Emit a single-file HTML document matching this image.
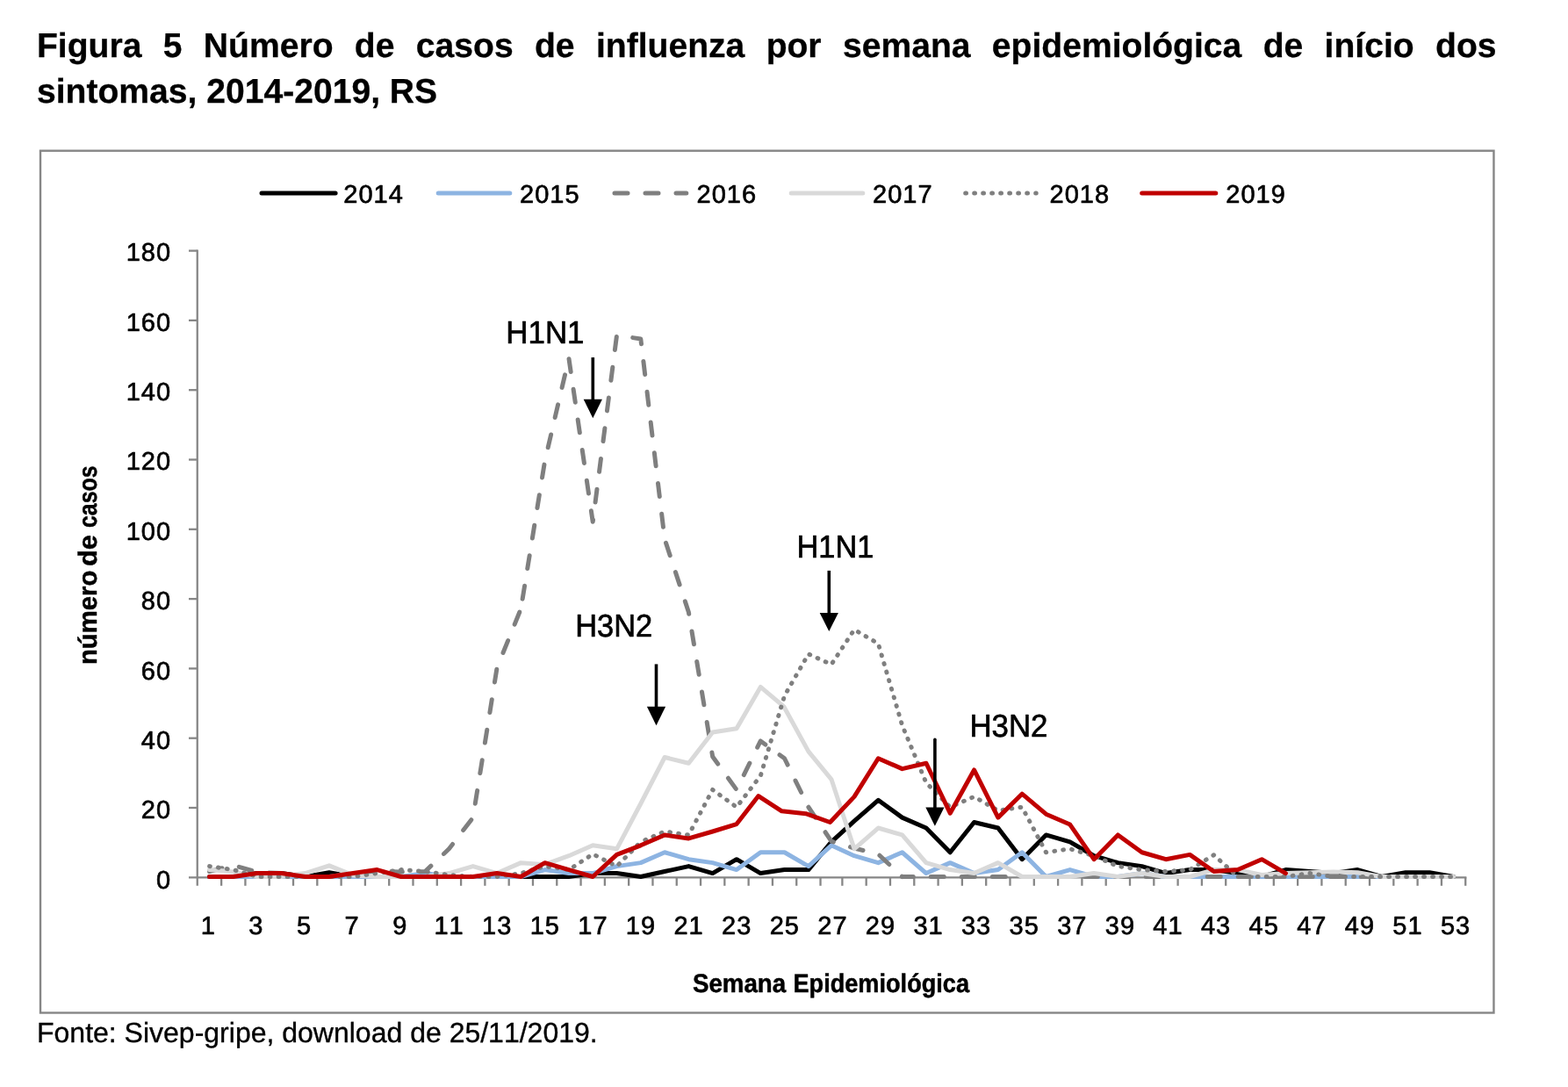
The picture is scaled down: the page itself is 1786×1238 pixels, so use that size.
<!DOCTYPE html>
<html lang="pt-BR">
<head>
<meta charset="utf-8">
<title>Figura 5 Número de casos de influenza por semana epidemiológica</title>
<style>
html,body{margin:0;padding:0;background:#fff;}
body{width:1786px;height:1238px;position:relative;overflow:hidden;font-family:"Liberation Sans",sans-serif;color:#000;}
.t1,.t2,.ft{position:absolute;white-space:nowrap;margin:0;font-kerning:none;text-rendering:geometricPrecision;}
.t1,.t2{font-weight:bold;font-size:39.1px;line-height:44px;left:42px;-webkit-text-stroke:0.3px #000;}
.t1{top:31px;width:1662.5px;text-align:justify;text-align-last:justify;}
.t2{top:83.3px;}
.ft{font-size:32px;line-height:36px;left:42px;top:1157.6px;-webkit-text-stroke:0.35px #000;}
svg text{font-family:"Liberation Sans",sans-serif;fill:#000;font-kerning:none;stroke:#000;stroke-linejoin:round;text-rendering:geometricPrecision;}
svg .ax{font-size:29.0px;stroke-width:0.65px;letter-spacing:1.0px;}
svg .axb{font-size:29.6px;font-weight:bold;stroke-width:0.5px;}
svg .an{font-size:36.2px;stroke-width:0.7px;}
</style>
</head>
<body>
<svg width="1786" height="1238" viewBox="0 0 1786 1238" style="position:absolute;left:0;top:0">
<rect x="46" y="171.7" width="1655.45" height="981.80" fill="#fff" stroke="#868686" stroke-width="2.4"/>
<g stroke="#868686" stroke-width="2.3" fill="none">
<line x1="224.75" y1="284.45" x2="224.75" y2="1008.8"/>
<line x1="215.0" y1="999.3" x2="1670.38" y2="999.3"/>
<line x1="215.0" y1="920.00" x2="224.75" y2="920.00"/>
<line x1="215.0" y1="840.70" x2="224.75" y2="840.70"/>
<line x1="215.0" y1="761.40" x2="224.75" y2="761.40"/>
<line x1="215.0" y1="682.10" x2="224.75" y2="682.10"/>
<line x1="215.0" y1="602.80" x2="224.75" y2="602.80"/>
<line x1="215.0" y1="523.50" x2="224.75" y2="523.50"/>
<line x1="215.0" y1="444.20" x2="224.75" y2="444.20"/>
<line x1="215.0" y1="364.90" x2="224.75" y2="364.90"/>
<line x1="215.0" y1="285.60" x2="224.75" y2="285.60"/>
<line x1="252.14" y1="999.3" x2="252.14" y2="1008.8"/>
<line x1="279.43" y1="999.3" x2="279.43" y2="1008.8"/>
<line x1="306.73" y1="999.3" x2="306.73" y2="1008.8"/>
<line x1="334.02" y1="999.3" x2="334.02" y2="1008.8"/>
<line x1="361.32" y1="999.3" x2="361.32" y2="1008.8"/>
<line x1="388.61" y1="999.3" x2="388.61" y2="1008.8"/>
<line x1="415.91" y1="999.3" x2="415.91" y2="1008.8"/>
<line x1="443.20" y1="999.3" x2="443.20" y2="1008.8"/>
<line x1="470.50" y1="999.3" x2="470.50" y2="1008.8"/>
<line x1="497.80" y1="999.3" x2="497.80" y2="1008.8"/>
<line x1="525.09" y1="999.3" x2="525.09" y2="1008.8"/>
<line x1="552.39" y1="999.3" x2="552.39" y2="1008.8"/>
<line x1="579.68" y1="999.3" x2="579.68" y2="1008.8"/>
<line x1="606.98" y1="999.3" x2="606.98" y2="1008.8"/>
<line x1="634.27" y1="999.3" x2="634.27" y2="1008.8"/>
<line x1="661.57" y1="999.3" x2="661.57" y2="1008.8"/>
<line x1="688.87" y1="999.3" x2="688.87" y2="1008.8"/>
<line x1="716.16" y1="999.3" x2="716.16" y2="1008.8"/>
<line x1="743.46" y1="999.3" x2="743.46" y2="1008.8"/>
<line x1="770.75" y1="999.3" x2="770.75" y2="1008.8"/>
<line x1="798.05" y1="999.3" x2="798.05" y2="1008.8"/>
<line x1="825.34" y1="999.3" x2="825.34" y2="1008.8"/>
<line x1="852.64" y1="999.3" x2="852.64" y2="1008.8"/>
<line x1="879.93" y1="999.3" x2="879.93" y2="1008.8"/>
<line x1="907.23" y1="999.3" x2="907.23" y2="1008.8"/>
<line x1="934.53" y1="999.3" x2="934.53" y2="1008.8"/>
<line x1="959.38" y1="999.3" x2="959.38" y2="1008.8"/>
<line x1="986.68" y1="999.3" x2="986.68" y2="1008.8"/>
<line x1="1013.98" y1="999.3" x2="1013.98" y2="1008.8"/>
<line x1="1041.29" y1="999.3" x2="1041.29" y2="1008.8"/>
<line x1="1068.59" y1="999.3" x2="1068.59" y2="1008.8"/>
<line x1="1095.89" y1="999.3" x2="1095.89" y2="1008.8"/>
<line x1="1123.19" y1="999.3" x2="1123.19" y2="1008.8"/>
<line x1="1150.49" y1="999.3" x2="1150.49" y2="1008.8"/>
<line x1="1177.80" y1="999.3" x2="1177.80" y2="1008.8"/>
<line x1="1205.10" y1="999.3" x2="1205.10" y2="1008.8"/>
<line x1="1232.40" y1="999.3" x2="1232.40" y2="1008.8"/>
<line x1="1259.70" y1="999.3" x2="1259.70" y2="1008.8"/>
<line x1="1287.00" y1="999.3" x2="1287.00" y2="1008.8"/>
<line x1="1314.31" y1="999.3" x2="1314.31" y2="1008.8"/>
<line x1="1341.61" y1="999.3" x2="1341.61" y2="1008.8"/>
<line x1="1368.91" y1="999.3" x2="1368.91" y2="1008.8"/>
<line x1="1396.21" y1="999.3" x2="1396.21" y2="1008.8"/>
<line x1="1423.51" y1="999.3" x2="1423.51" y2="1008.8"/>
<line x1="1450.82" y1="999.3" x2="1450.82" y2="1008.8"/>
<line x1="1478.12" y1="999.3" x2="1478.12" y2="1008.8"/>
<line x1="1505.42" y1="999.3" x2="1505.42" y2="1008.8"/>
<line x1="1532.72" y1="999.3" x2="1532.72" y2="1008.8"/>
<line x1="1560.02" y1="999.3" x2="1560.02" y2="1008.8"/>
<line x1="1587.33" y1="999.3" x2="1587.33" y2="1008.8"/>
<line x1="1614.63" y1="999.3" x2="1614.63" y2="1008.8"/>
<line x1="1641.93" y1="999.3" x2="1641.93" y2="1008.8"/>
<line x1="1669.23" y1="999.3" x2="1669.23" y2="1008.8"/>
</g>
<polyline points="238.49,998.50 265.78,998.50 293.08,994.54 320.37,994.54 347.67,998.50 374.97,993.74 402.26,998.50 429.56,998.50 456.85,998.50 484.15,998.50 511.44,998.50 538.74,998.50 566.04,998.50 593.33,998.50 620.63,998.50 647.92,998.50 675.22,994.54 702.51,994.54 729.81,998.50 757.10,992.56 784.40,986.61 811.70,994.54 838.99,978.68 866.29,994.54 893.58,990.57 920.88,990.57 946.95,958.87 973.03,935.09 1000.33,911.31 1027.63,931.13 1054.94,943.02 1082.24,970.76 1109.54,936.49 1136.84,943.02 1164.14,978.68 1191.45,950.94 1218.75,958.87 1246.05,974.72 1273.35,982.65 1300.65,986.61 1327.96,994.54 1355.26,990.57 1382.56,990.57 1409.86,994.54 1437.16,998.50 1464.47,990.57 1491.77,992.56 1519.07,994.54 1546.37,990.57 1573.67,998.50 1600.98,993.74 1628.28,993.74 1655.58,998.50" fill="none" stroke="#000000" stroke-width="5.0" stroke-linecap="round" stroke-linejoin="round"/>
<polyline points="238.49,998.50 265.78,998.50 293.08,998.50 320.37,998.50 347.67,998.50 374.97,998.50 402.26,998.50 429.56,998.50 456.85,998.50 484.15,994.54 511.44,998.50 538.74,998.50 566.04,998.50 593.33,998.50 620.63,990.57 647.92,994.54 675.22,994.54 702.51,986.61 729.81,982.65 757.10,970.76 784.40,978.68 811.70,982.65 838.99,990.57 866.29,970.76 893.58,970.76 920.88,986.61 946.95,962.83 973.03,974.72 1000.33,982.65 1027.63,970.76 1054.94,994.54 1082.24,982.65 1109.54,994.54 1136.84,990.57 1164.14,970.76 1191.45,998.50 1218.75,990.57 1246.05,998.50 1273.35,998.50 1300.65,994.54 1327.96,998.50 1355.26,998.50 1382.56,998.50 1409.86,998.50 1437.16,998.50 1464.47,998.50 1491.77,998.50 1519.07,998.50 1546.37,998.50 1573.67,998.50 1600.98,998.50 1628.28,998.50" fill="none" stroke="#8db4e2" stroke-width="5.0" stroke-linecap="round" stroke-linejoin="round"/>
<g fill="none" stroke="#7f7f7f" stroke-width="5.0" stroke-linecap="round" stroke-linejoin="round" stroke-dasharray="15 20">
<polyline points="238.49,992.56 265.78,985.42 293.08,993.35 320.37,994.54 347.67,998.50 374.97,998.50 402.26,994.54 429.56,992.16 456.85,992.95" stroke-dashoffset="0.00"/>
<polyline points="456.85,992.95 484.15,992.56 511.44,966.80 538.74,931.13" stroke-dashoffset="13.42"/>
<polyline points="538.74,931.13 566.04,760.72 593.33,693.35" stroke-dashoffset="18.87"/>
<polyline points="593.33,693.35 620.63,524.92 647.92,408.01 675.22,594.27 702.51,381.97 729.81,385.94 757.10,614.09" stroke-dashoffset="23.64"/>
<polyline points="757.10,614.09 784.40,697.31 811.70,861.78 838.99,899.42 866.29,843.94 893.58,863.76 920.88,919.24" stroke-dashoffset="30.48"/>
<polyline points="920.88,919.24 946.95,958.08 973.03,966.00 1000.33,972.74 1027.63,998.50" stroke-dashoffset="0.67"/>
<polyline points="1027.63,998.50 1054.94,998.50 1082.24,998.50 1109.54,998.50 1136.84,998.50 1164.14,998.50 1191.45,998.50 1218.75,998.50 1246.05,998.50 1273.35,998.50 1300.65,998.50 1327.96,998.50 1355.26,998.50 1382.56,998.50 1409.86,998.50 1437.16,998.50 1464.47,998.50 1491.77,998.50 1519.07,998.50 1546.37,998.50 1573.67,998.50 1600.98,998.50 1628.28,998.50" stroke-dashoffset="2.37"/>
</g>
<polyline points="238.49,990.57 265.78,992.95 293.08,998.50 320.37,998.50 347.67,994.54 374.97,985.82 402.26,996.91 429.56,998.50 456.85,998.50 484.15,998.50 511.44,994.54 538.74,986.61 566.04,994.54 593.33,982.65 620.63,984.63 647.92,974.72 675.22,962.83 702.51,966.80 729.81,915.28 757.10,862.50 784.40,869.22 811.70,834.04 838.99,829.69 866.29,782.43 892.98,804.96 920.88,855.83 946.95,887.54 973.03,966.80 1000.33,943.02 1027.63,950.94 1054.94,982.65 1082.24,990.57 1109.54,994.54 1136.84,982.65 1164.14,998.50 1191.45,998.50 1218.75,998.50 1246.05,994.54 1273.35,998.50 1300.65,994.54 1327.96,998.50 1355.26,998.50 1382.56,990.57 1409.86,990.57 1437.16,996.52 1464.47,994.54 1491.77,993.74 1519.07,992.95 1546.37,993.74 1573.67,998.50 1600.98,998.50 1628.28,998.50 1655.58,998.50" fill="none" stroke="#d9d9d9" stroke-width="5.0" stroke-linecap="round" stroke-linejoin="round"/>
<g fill="none" stroke="#7f7f7f" stroke-width="5.0" stroke-linecap="round" stroke-linejoin="round" stroke-dasharray="0.8 9.2">
<polyline points="238.49,986.61 265.78,990.57 293.08,998.50 320.37,998.50 347.67,998.50 374.97,998.50 402.26,998.50 429.56,994.54 456.85,990.57 484.15,992.56 511.44,996.52 538.74,998.50 566.04,998.50 593.33,994.54 620.63,986.61 647.92,990.57 675.22,972.72 702.51,986.61 729.81,958.87" stroke-dashoffset="9.90"/>
<polyline points="729.81,958.87 757.10,946.98 784.40,950.94 811.70,899.42 838.99,919.24 866.29,883.57 893.58,792.42 920.88,744.87 946.95,756.76 973.03,717.13 1000.33,732.98 1027.63,826.11 1054.94,891.50 1082.24,919.24 1109.54,907.35 1136.84,923.20 1164.14,919.24 1191.45,970.76 1218.75,966.80 1246.05,974.72 1273.35,986.61 1300.65,990.57 1327.96,992.56 1355.26,990.57 1382.56,973.72 1409.86,998.50 1437.16,998.50 1464.47,998.50 1491.77,994.54 1519.07,998.50 1546.37,998.50 1573.67,998.50 1600.98,998.50 1628.28,998.50 1655.58,998.50" stroke-dashoffset="4.51"/>
</g>
<polyline points="238.49,998.50 265.78,998.50 293.08,994.54 320.37,994.54 347.67,998.50 374.97,998.50 402.26,994.54 429.56,990.57 456.85,998.50 484.15,998.50 511.44,998.50 538.74,998.50 566.04,994.54 593.33,998.50 620.63,982.65 647.92,990.57 675.22,998.50 702.51,973.42 729.81,962.83 757.10,950.94 784.40,954.91 811.70,946.98 838.99,938.55 863.89,906.55 890.48,923.80 917.88,926.67 945.45,936.49 973.03,907.35 1000.33,863.76 1027.63,875.65 1054.94,869.22 1082.24,926.17 1109.54,876.95 1136.84,931.13 1164.14,904.19 1191.45,927.17 1218.75,939.05 1246.05,978.68 1273.35,950.94 1300.65,970.76 1327.96,978.68 1355.26,973.42 1382.56,992.56 1409.86,990.57 1437.16,978.68 1464.47,994.54" fill="none" stroke="#c00000" stroke-width="5.0" stroke-linecap="round" stroke-linejoin="round"/>
<line x1="298.0" y1="220" x2="382.1" y2="220" stroke="#000000" stroke-width="5.0" stroke-linecap="round"/>
<text class="ax" x="391.3" y="230.8">2014</text>
<line x1="499.2" y1="220" x2="580.8" y2="220" stroke="#8db4e2" stroke-width="5.0" stroke-linecap="round"/>
<text class="ax" x="592.1" y="230.8">2015</text>
<line x1="700.0" y1="220" x2="781.8" y2="220" stroke="#7f7f7f" stroke-width="5.0" stroke-linecap="round" stroke-dasharray="15 20"/>
<text class="ax" x="793.6" y="230.8">2016</text>
<line x1="901.2" y1="220" x2="982.8" y2="220" stroke="#d9d9d9" stroke-width="5.0" stroke-linecap="round"/>
<text class="ax" x="994.1" y="230.8">2017</text>
<line x1="1099.7" y1="220" x2="1180.2" y2="220" stroke="#7f7f7f" stroke-width="5.0" stroke-linecap="round" stroke-dasharray="0.8 9.2"/>
<text class="ax" x="1195.6" y="230.8">2018</text>
<line x1="1300.7" y1="220" x2="1384.8" y2="220" stroke="#c00000" stroke-width="5.0" stroke-linecap="round"/>
<text class="ax" x="1396.3" y="230.8">2019</text>
<text class="ax" x="195.1" y="1011.8" text-anchor="end">0</text>
<text class="ax" x="195.1" y="932.3" text-anchor="end">20</text>
<text class="ax" x="195.1" y="852.9" text-anchor="end">40</text>
<text class="ax" x="195.1" y="773.5" text-anchor="end">60</text>
<text class="ax" x="195.1" y="694.1" text-anchor="end">80</text>
<text class="ax" x="195.1" y="614.7" text-anchor="end">100</text>
<text class="ax" x="195.1" y="535.3" text-anchor="end">120</text>
<text class="ax" x="195.1" y="455.9" text-anchor="end">140</text>
<text class="ax" x="195.1" y="376.5" text-anchor="end">160</text>
<text class="ax" x="195.1" y="297.1" text-anchor="end">180</text>
<text class="ax" x="237.3" y="1064.1" text-anchor="middle">1</text>
<text class="ax" x="291.9" y="1064.1" text-anchor="middle">3</text>
<text class="ax" x="346.5" y="1064.1" text-anchor="middle">5</text>
<text class="ax" x="401.1" y="1064.1" text-anchor="middle">7</text>
<text class="ax" x="455.7" y="1064.1" text-anchor="middle">9</text>
<text class="ax" x="511.6" y="1064.1" text-anchor="middle">11</text>
<text class="ax" x="566.2" y="1064.1" text-anchor="middle">13</text>
<text class="ax" x="620.8" y="1064.1" text-anchor="middle">15</text>
<text class="ax" x="675.4" y="1064.1" text-anchor="middle">17</text>
<text class="ax" x="730.0" y="1064.1" text-anchor="middle">19</text>
<text class="ax" x="784.6" y="1064.1" text-anchor="middle">21</text>
<text class="ax" x="839.2" y="1064.1" text-anchor="middle">23</text>
<text class="ax" x="893.8" y="1064.1" text-anchor="middle">25</text>
<text class="ax" x="948.4" y="1064.1" text-anchor="middle">27</text>
<text class="ax" x="1003.0" y="1064.1" text-anchor="middle">29</text>
<text class="ax" x="1057.6" y="1064.1" text-anchor="middle">31</text>
<text class="ax" x="1112.1" y="1064.1" text-anchor="middle">33</text>
<text class="ax" x="1166.7" y="1064.1" text-anchor="middle">35</text>
<text class="ax" x="1221.3" y="1064.1" text-anchor="middle">37</text>
<text class="ax" x="1275.9" y="1064.1" text-anchor="middle">39</text>
<text class="ax" x="1330.5" y="1064.1" text-anchor="middle">41</text>
<text class="ax" x="1385.1" y="1064.1" text-anchor="middle">43</text>
<text class="ax" x="1439.7" y="1064.1" text-anchor="middle">45</text>
<text class="ax" x="1494.3" y="1064.1" text-anchor="middle">47</text>
<text class="ax" x="1548.9" y="1064.1" text-anchor="middle">49</text>
<text class="ax" x="1603.5" y="1064.1" text-anchor="middle">51</text>
<text class="ax" x="1658.1" y="1064.1" text-anchor="middle">53</text>
<text class="axb" y="1129.5"><tspan x="788.9" textLength="106.3" lengthAdjust="spacingAndGlyphs">Semana</tspan> <tspan x="903.5" textLength="200.5" lengthAdjust="spacingAndGlyphs">Epidemiológica</tspan></text>
<text class="axb" transform="translate(110.3 755.3) rotate(-90)" y="0"><tspan x="-1.8" textLength="107.4" lengthAdjust="spacingAndGlyphs">número</tspan> <tspan x="110.5" textLength="35.5" lengthAdjust="spacingAndGlyphs">de</tspan> <tspan x="154.3" textLength="70.5" lengthAdjust="spacingAndGlyphs">casos</tspan></text>
<text class="an" x="576.3" y="390.6" textLength="89.2" lengthAdjust="spacingAndGlyphs">H1N1</text>
<text class="an" x="655.3" y="724.9" textLength="87.9" lengthAdjust="spacingAndGlyphs">H3N2</text>
<text class="an" x="907.5" y="634.8" textLength="87.8" lengthAdjust="spacingAndGlyphs">H1N1</text>
<text class="an" x="1104.4" y="839.1" textLength="89.0" lengthAdjust="spacingAndGlyphs">H3N2</text>
<line x1="675.3" y1="407.1" x2="675.3" y2="455.8" stroke="#000" stroke-width="3.6"/>
<polygon points="664.6999999999999,454.8 685.9,454.8 675.3,476.3" fill="#000"/>
<line x1="747.5" y1="756.4" x2="747.5" y2="805.7" stroke="#000" stroke-width="3.6"/>
<polygon points="736.9,804.7 758.1,804.7 747.5,826.2" fill="#000"/>
<line x1="944.3" y1="649.9" x2="944.3" y2="699.0" stroke="#000" stroke-width="3.6"/>
<polygon points="933.6999999999999,698.0 954.9,698.0 944.3,719.0" fill="#000"/>
<line x1="1064.9" y1="842.2" x2="1064.9" y2="920.6" stroke="#000" stroke-width="3.6" stroke-linecap="round"/>
<polygon points="1054.3000000000002,919.6 1075.5,919.6 1064.9,940.8" fill="#000"/>
</svg>
<div class="t1">Figura 5 Número de casos de influenza por semana epidemiológica de início dos</div>
<div class="t2">sintomas, 2014-2019, RS</div>
<div class="ft">Fonte: Sivep-gripe, download de 25/11/2019.</div>
</body>
</html>
